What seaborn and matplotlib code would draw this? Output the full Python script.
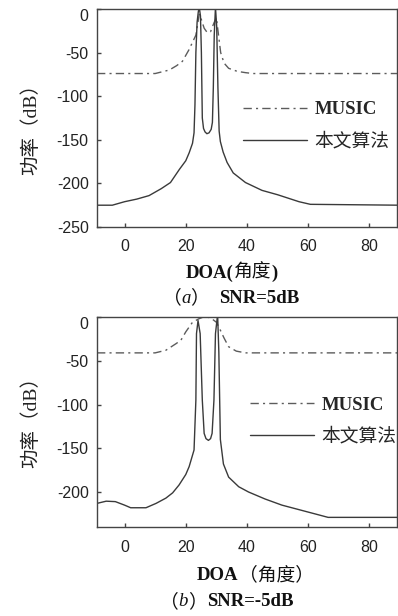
import numpy as np
import pandas as pd
import matplotlib
matplotlib.use("Agg")
import matplotlib.pyplot as plt
from matplotlib.font_manager import FontProperties
import seaborn as sns

# --- DATA ---
# (a) SNR=5dB
a_music_doa = [-9, 10, 14.6, 17, 18.9, 21, 23.3, 24.4, 24.9, 26.0, 27.0, 28.1, 29.2, 30.0, 30.7,
               31.4, 32.5, 34.0, 36.8, 39.5, 42, 90]
a_music_db = [-74, -74, -70, -65, -60, -47, -30, -6, -10, -22, -27, -26, -16, -10, -30,
              -50, -62, -68, -71.5, -73, -74, -74]
a_ours_doa = [-9, -4, 0, 4, 8, 12, 15, 17.9, 20, 21.1, 22.2, 22.7, 23.0, 23.3, 23.7, 24.1, 24.4,
              24.8, 25.1, 25.4, 25.8, 26.3, 26.9, 27.6, 28.3, 28.7, 29.0, 29.3, 29.7, 30.1, 30.5,
              30.9, 31.3, 32.2, 33.5, 35.5, 39.5, 44.9, 50, 53.5, 57, 60.7, 90]
a_ours_db = [-225, -225, -221, -218, -214, -206, -199, -184, -174, -165, -154, -142, -110, -50, -15,
             -3, 2, -8, -50, -125, -137, -141, -143, -142, -138, -130, -90, -30, 2, -20, -90,
             -140, -152, -164, -176, -188, -199, -208, -213, -217, -221, -224, -225]

# (b) SNR=-5dB
b_music_doa = [-9, 10, 13.5, 16.8, 18.4, 20, 22.2, 24.3, 26.5, 28.5, 30.0, 30.8, 32.5, 34, 36.5, 39.5, 90]
b_music_db = [-41, -41, -38, -30.5, -26.6, -17, -6, -2, 1, -2, -6, -11.4, -24, -34, -39, -41, -41]
b_ours_doa = [-9, -6, -3, 0, 2, 7, 10.3, 13.5, 15.7, 17.8, 20, 21.1, 22.7, 23.3, 23.5, 24.0, 24.7,
              25.4, 26.0, 26.6, 27.4, 28.1, 28.6, 29.2, 29.7, 30.4, 30.8, 31.3, 32.3, 34.0, 37.3,
              40.5, 45.9, 51.4, 56.8, 62.2, 66.5, 90]
b_ours_db = [-213, -210.5, -211, -215, -218, -218, -213, -207, -201, -192, -180, -171, -152, -95, -19,
             -4, -19, -95, -133, -139, -141, -139, -133, -95, -19, 3, -40, -140, -168, -183, -194,
             -200, -208, -215, -220, -225, -229, -229]

legend_labels = ["MUSIC", "本文算法"]
xticks = [0, 20, 40, 60, 80]
a_yticks = [0, -50, -100, -150, -200, -250]
b_yticks = [0, -50, -100, -150, -200]

# --- STYLE ---
sns.set_style("ticks")
plt.rcParams['font.family'] = ['Liberation Sans', 'Noto Sans CJK SC']
plt.rcParams['axes.unicode_minus'] = False
SERIF = ['Liberation Serif', 'Noto Sans CJK SC']
INK = '#222222'

W, H = 398, 616
fig = plt.figure(figsize=(W / 100, H / 100), dpi=100)


def draw_panel(rect, m_x, m_y, o_x, o_y, ylim, yticks, legend_anchor, ylabel_y):
    ax = fig.add_axes(rect)
    df_m = pd.DataFrame({'DOA': m_x, 'P': m_y})
    df_o = pd.DataFrame({'DOA': o_x, 'P': o_y})
    sns.lineplot(data=df_m, x='DOA', y='P', ax=ax, color='#5c5c5c', linewidth=1.0,
                 linestyle=(0, (6, 3, 1.5, 3)), label=legend_labels[0], estimator=None)
    sns.lineplot(data=df_o, x='DOA', y='P', ax=ax, color='#3a3a3a', linewidth=1.0,
                 label=legend_labels[1], estimator=None)
    ax.set_xlim(-9, 89)
    ax.set_ylim(*ylim)
    ax.set_xticks(xticks, [str(t) for t in xticks])
    ax.set_yticks(yticks, [str(t) for t in yticks])
    for lab in ax.get_yticklabels():
        if lab.get_text() == '0':
            lab.set_va('top')
    ax.tick_params(direction='in', length=3, width=1, colors='#444444', labelcolor=INK, labelsize=11.5)
    ax.tick_params(axis='x', pad=9)
    ax.tick_params(axis='y', pad=6)
    for sp in ax.spines.values():
        sp.set_visible(True)
        sp.set_linewidth(1.0)
        sp.set_color('#444444')
    ax.set_xlabel("")
    ax.set_ylabel("功率（dB）", family=SERIF, fontsize=14, color='#222222')
    ax.yaxis.set_label_coords(-0.19, ylabel_y)
    leg = ax.legend(frameon=False, loc='upper left', bbox_to_anchor=legend_anchor,
                    handlelength=3.4, handletextpad=0.4, borderpad=0, borderaxespad=0,
                    labelspacing=0.75, prop=FontProperties(family=SERIF, size=13.5))
    leg.get_texts()[0].set_fontweight('bold')
    return ax


def rich_text(ax, x, y, parts, size=13.5):
    # chain text pieces left to right (figure pixel coords of the first piece)
    prev = None
    for s, kw in parts:
        if prev is None:
            prev = fig.text(x / W, 1 - y / H, s, va='center', ha='left', family=SERIF,
                            fontsize=size, color='#111111', **kw)
        else:
            prev = ax.annotate(s, xy=(1, 0.5), xycoords=prev, va='center', ha='left',
                               family=SERIF, fontsize=size, color='#111111',
                               annotation_clip=False, **kw)


ax_a = draw_panel([97 / W, 1 - 227 / H, 300 / W, 218 / H],
                  a_music_doa, a_music_db, a_ours_doa, a_ours_db,
                  (-250, 0), a_yticks, (0.487, 0.577), 0.47)
ax_b = draw_panel([97 / W, 1 - 527 / H, 300 / W, 210 / H],
                  b_music_doa, b_music_db, b_ours_doa, b_ours_db,
                  (-240, 0), b_yticks, (0.51, 0.622), 0.52)

B = {'fontweight': 'bold'}
N = {}
rich_text(ax_a, 186, 273, [("DOA(", B), ("角度", N), (")", B)])
rich_text(ax_a, 163, 298, [("（", N), ("a", {'fontstyle': 'italic'}), ("）  ", N), ("SNR=5dB", B)])
rich_text(ax_b, 197, 575, [("DOA", B), ("（角度）", N)])
rich_text(ax_b, 160, 602, [("（", N), ("b", {'fontstyle': 'italic'}), ("）", N), ("SNR=-5dB", B)])

fig.savefig("out.png", dpi=100)
